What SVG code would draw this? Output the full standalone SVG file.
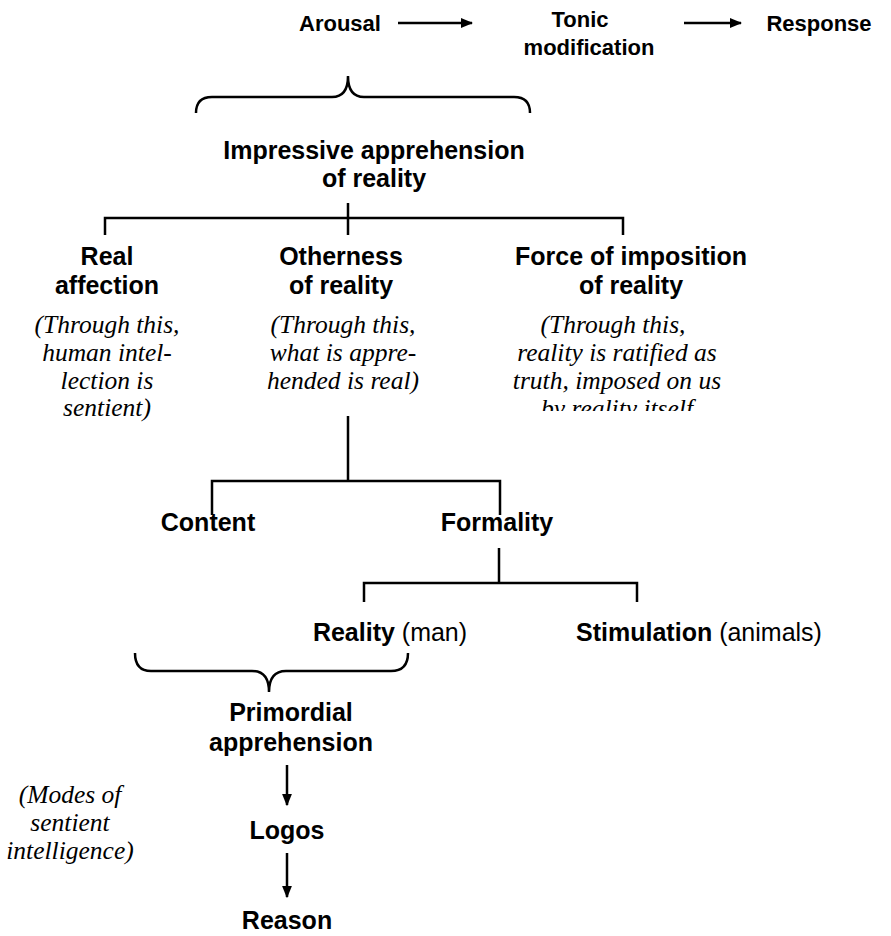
<svg xmlns="http://www.w3.org/2000/svg" width="891" height="936" viewBox="0 0 891 936">
<style>
.b{font-family:"Liberation Sans",Arial,sans-serif;font-weight:bold;font-size:25px;fill:#000;text-anchor:middle}
.t{font-size:22px}
.r{font-weight:normal}
.i{font-family:"Liberation Serif","Times New Roman",serif;font-style:italic;font-size:25.5px;fill:#000;text-anchor:middle}
.ln{stroke:#000;stroke-width:2.5;fill:none}
</style>
<defs>
<marker id="ah" viewBox="0 0 10 10" refX="9" refY="5" markerWidth="5" markerHeight="5" orient="auto" markerUnits="strokeWidth">
<path d="M0,1 L10,5 L0,9 z" fill="#000"/>
</marker>
<clipPath id="clipF"><rect x="480" y="300" width="300" height="111"/></clipPath>
</defs>
<g id="connectors">
<line class="ln" x1="398" y1="23" x2="472" y2="23" marker-end="url(#ah)"/>
<line class="ln" x1="684" y1="23" x2="741" y2="23" marker-end="url(#ah)"/>
<path class="ln" d="M196,113 Q196,97 212,97 L332,97 Q348,97 348,76 Q348,97 364,97 L514,97 Q530,97 530,113"/>
<path class="ln" d="M348,203 V218 M105,235 V218 H623 V235 M348,218 V235"/>
<path class="ln" d="M348,416 V481 M212,515 V481 H500 V515"/>
<path class="ln" d="M499,548 V583 M364,602 V583 H637 V602"/>
<path class="ln" d="M135,653 Q135,671 151,671 L252,671 Q269,671 269,692 Q269,671 286,671 L391,671 Q408,671 408,653"/>
<line class="ln" x1="287" y1="765" x2="287" y2="805" marker-end="url(#ah)"/>
<line class="ln" x1="287" y1="853" x2="287" y2="897" marker-end="url(#ah)"/>
</g>
<g id="arousal"><text class="b t" x="340" y="31">Arousal</text></g>
<g id="tonic"><text class="b t" x="580" y="27">Tonic</text><text class="b t" x="589" y="55">modification</text></g>
<g id="response"><text class="b t" x="819" y="31">Response</text></g>
<g id="impressive"><text class="b" x="374" y="159">Impressive apprehension</text><text class="b" x="374" y="187">of reality</text></g>
<g id="real-affection"><text class="b" x="107" y="265">Real</text><text class="b" x="107" y="294">affection</text>
<text class="i" x="107" y="333">(Through this,</text><text class="i" x="107" y="361">human intel-</text><text class="i" x="107" y="389">lection is</text><text class="i" x="107" y="416">sentient)</text></g>
<g id="otherness"><text class="b" x="341" y="265">Otherness</text><text class="b" x="341" y="294">of reality</text>
<text class="i" x="343" y="333">(Through this,</text><text class="i" x="343" y="361">what is appre-</text><text class="i" x="343" y="389">hended is real)</text></g>
<g id="force"><text class="b" x="631" y="265">Force of imposition</text><text class="b" x="631" y="294">of reality</text>
<text class="i" x="613" y="333">(Through this,</text><text class="i" x="617" y="361">reality is ratified as</text><text class="i" x="617" y="389">truth, imposed on us</text><text class="i" x="617" y="417" clip-path="url(#clipF)">by reality itself</text></g>
<g id="content"><text class="b" x="208" y="531">Content</text></g>
<g id="formality"><text class="b" x="497" y="531">Formality</text></g>
<g id="reality-man"><text class="b" x="390" y="641">Reality <tspan class="r">(man)</tspan></text></g>
<g id="stimulation"><text class="b" x="699" y="641">Stimulation <tspan class="r">(animals)</tspan></text></g>
<g id="primordial"><text class="b" x="291" y="721">Primordial</text><text class="b" x="291" y="751">apprehension</text></g>
<g id="modes"><text class="i" x="70" y="803">(Modes of</text><text class="i" x="70" y="831">sentient</text><text class="i" x="70" y="859">intelligence)</text></g>
<g id="logos"><text class="b" x="287" y="839">Logos</text></g>
<g id="reason"><text class="b" x="287" y="929">Reason</text></g>
</svg>
